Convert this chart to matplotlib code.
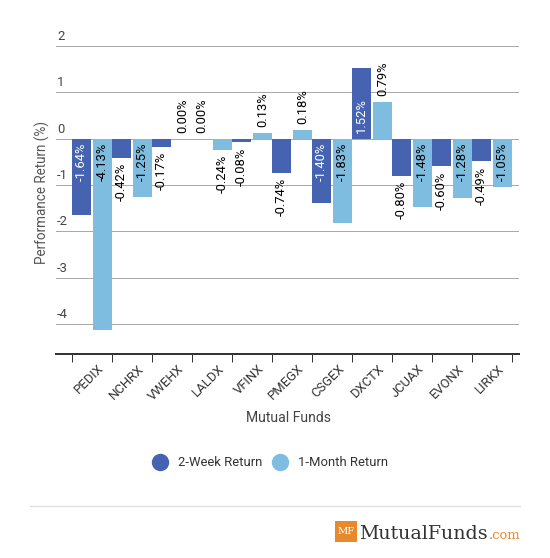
import matplotlib
matplotlib.use('Agg')
import matplotlib.pyplot as plt
from matplotlib.lines import Line2D
from matplotlib.patches import Rectangle
from matplotlib.transforms import ScaledTranslation
import numpy as np

funds = ['PEDIX', 'NCHRX', 'VWEHX', 'LALDX', 'VFINX', 'PMEGX', 'CSGEX', 'DXCTX', 'JCUAX', 'EVONX', 'LIRKX']
two_week = [-1.64, -0.42, -0.17, 0.00, -0.08, -0.74, -1.40, 1.52, -0.80, -0.60, -0.49]
one_month = [-4.13, -1.25, 0.00, -0.24, 0.13, 0.18, -1.83, 0.79, -1.48, -1.28, -1.05]
series_names = ['2-Week Return', '1-Month Return']
y_ticks = [2, 1, 0, -1, -2, -3, -4]

DARK = '#4563B0'
LIGHT = '#7FBDE0'
ORANGE = '#E8892B'

W, H = 550, 558
PX = 0.72  # points per pixel at dpi 100
plt.rcParams['font.family'] = ['Roboto', 'DejaVu Sans']
fig = plt.figure(figsize=(W / 100, H / 100), dpi=100)


def fx(px):
    return px / W


def fy(py):
    return 1 - py / H


# main plotting axes
ax = fig.add_axes([fx(56), fy(354), fx(519) - fx(56), fy(46) - fy(354)])
ax.set_xlim(-0.9, 10.675)
ax.set_ylim(-4.65, 2)
for s in ['top', 'left', 'right']:
    ax.spines[s].set_visible(False)
ax.spines['bottom'].set_color('#333333')
ax.spines['bottom'].set_linewidth(2 * PX)
ax.set_yticks(y_ticks)
ax.grid(axis='y', color='#aaaaaa', lw=1 * PX)
ax.set_axisbelow(True)
ax.tick_params(axis='y', length=0, labelleft=False)

for t in y_ticks:
    ax.annotate(f'{t}', xy=(0, t), xycoords=('axes fraction', 'data'),
                xytext=(1 * PX, 3 * PX), textcoords='offset points',
                ha='left', va='bottom', fontsize=13 * PX, color='#444444')

x = np.arange(len(funds))
off = 0.2625
bw = 0.475
ax.bar(x - off, two_week, bw, color=DARK, zorder=2)
ax.bar(x + off, one_month, bw, color=LIGHT, zorder=2)

# x ticks at group boundaries, labels at group centres
ax.set_xticks(np.arange(len(funds) + 1) - 0.5)
ax.set_xticklabels([])
ax.tick_params(axis='x', which='major', length=8 * PX, width=1 * PX, color='#333333')
ax.set_xticks(x, minor=True)
ax.set_xticklabels(funds, minor=True, rotation=45, ha='right', va='top',
                   rotation_mode='anchor', fontsize=13 * PX, color='#333333')
ax.tick_params(axis='x', which='minor', length=0, pad=8 * PX)
shift = ScaledTranslation(5.5 / 100, 0, fig.dpi_scale_trans)
for lbl in ax.get_xticklabels(minor=True):
    lbl.set_transform(lbl.get_transform() + shift)


def label(xpos, v, inside_color):
    txt = f'{v:.2f}%'
    if abs(v) >= 1.0:
        if v < 0:
            ax.annotate(txt, xy=(xpos, 0), xytext=(0, -4 * PX), textcoords='offset points',
                        ha='center', va='top', rotation=90, fontsize=13 * PX, color=inside_color, zorder=3)
        else:
            ax.annotate(txt, xy=(xpos, 0), xytext=(0, 6 * PX), textcoords='offset points',
                        ha='center', va='bottom', rotation=90, fontsize=13 * PX, color=inside_color, zorder=3)
    else:
        if v < 0:
            ax.annotate(txt, xy=(xpos, v), xytext=(0, -5 * PX), textcoords='offset points',
                        ha='center', va='top', rotation=90, fontsize=13 * PX, color='black', zorder=3)
        else:
            ax.annotate(txt, xy=(xpos, v), xytext=(0, 6 * PX), textcoords='offset points',
                        ha='center', va='bottom', rotation=90, fontsize=13 * PX, color='black', zorder=3)


for i in range(len(funds)):
    label(x[i] - off, two_week[i], 'white')
    label(x[i] + off, one_month[i], 'black')

fig.text(fx(288), fy(418), 'Mutual Funds', ha='center', va='center', fontsize=14 * PX, color='#444444')
fig.text(fx(42), fy(192), 'Performance Return (%)', ha='center', va='center', rotation=90,
         fontsize=13.5 * PX, color='#555555')

handles = [Line2D([], [], marker='o', ls='none', ms=16 * PX, color=DARK),
           Line2D([], [], marker='o', ls='none', ms=16 * PX, color=LIGHT)]
fig.legend(handles, series_names, loc='center', bbox_to_anchor=(fx(270), fy(463)), ncol=2,
           frameon=False, handlelength=1.25, handletextpad=0.75, columnspacing=0.75,
           fontsize=13 * PX, labelcolor='#333333', borderpad=0, borderaxespad=0)

fig.add_artist(Line2D([fx(30), fx(520)], [fy(506), fy(506)], transform=fig.transFigure,
                      color='#dddddd', lw=1.2 * PX))

# logo
fig.add_artist(Rectangle((fx(335), fy(542)), 22 / W, 21 / H, transform=fig.transFigure,
                         color=ORANGE, lw=0))
fig.text(fx(346), fy(531.5), 'MF', ha='center', va='center', color='white',
         fontsize=10 * PX, family='DejaVu Serif')
fig.text(fx(359), fy(539), 'MutualFunds', ha='left', va='baseline', color='#333333',
         fontsize=19 * PX, family='DejaVu Serif')
fig.text(fx(520), fy(539), '.com', ha='right', va='baseline', color=ORANGE,
         fontsize=13 * PX, family='DejaVu Serif')

fig.savefig('out.png', dpi=100)
